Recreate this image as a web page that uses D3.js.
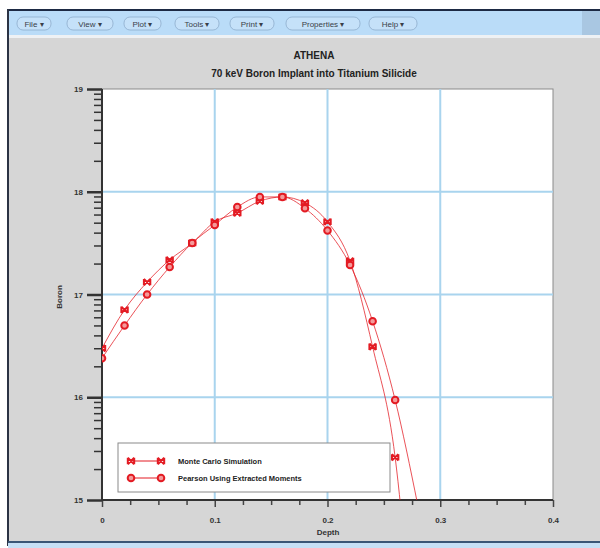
<!DOCTYPE html>
<html><head><meta charset="utf-8">
<script src="https://cdn.jsdelivr.net/npm/d3@7/dist/d3.min.js"></script>
<style>body{margin:0;background:#fff}svg{display:block}text{font-family:"Liberation Sans",Arial,sans-serif}</style>
</head><body><svg id="c" width="600" height="548"></svg>
<script>
// ---- data ----
const depths = [0, 0.02, 0.04, 0.06, 0.08, 0.10, 0.12, 0.14, 0.16, 0.18, 0.20, 0.22, 0.24, 0.26];
const monteCarlo = [3.0e16, 7.1e16, 1.32e17, 2.17e17, 3.17e17, 5.1e17, 6.2e17, 8.1e17, 8.9e17, 7.8e17, 5.1e17, 2.12e17, 3.1e16, 2.6e15];
const pearson    = [2.4e16, 5.0e16, 1.0e17, 1.85e17, 3.17e17, 4.75e17, 7.1e17, 8.9e17, 8.9e17, 6.9e17, 4.2e17, 1.94e17, 5.5e16, 9.4e15];
const tailDepth = 0.28;
const monteCarloTail = 1e13;
const pearsonTail = 9e14;
const xTicks = [0, 0.1, 0.2, 0.3, 0.4];
const xTickLabels = ["0", "0.1", "0.2", "0.3", "0.4"];
const yTicks = [1e15, 1e16, 1e17, 1e18, 1e19];
const yTickLabels = ["15", "16", "17", "18", "19"];
const seriesNames = ["Monte Carlo Simulation", "Pearson Using Extracted Moments"];
const menuItems = ["File", "View", "Plot", "Tools", "Print", "Properties", "Help"];
const title = "ATHENA";
const subtitle = "70 keV Boron Implant into Titanium Silicide";
const xLabel = "Depth";
const yLabel = "Boron";

// ---- chrome ----
const svg = d3.select("#c");
svg.append("rect").attr("x",8).attr("y",38).attr("width",592).attr("height",503).attr("fill","#d6d6d6");
svg.append("rect").attr("x",8).attr("y",9).attr("width",592).attr("height",2).attr("fill","#1d2a44");
svg.append("rect").attr("x",8).attr("y",11).attr("width",592).attr("height",24).attr("fill","#badcf8");
svg.append("rect").attr("x",582).attr("y",11).attr("width",18).attr("height",24).attr("fill","#a9c7e2");
svg.append("rect").attr("x",8).attr("y",35).attr("width",592).attr("height",3).attr("fill","#eef1f4");
svg.append("rect").attr("x",7).attr("y",9).attr("width",2).attr("height",537).attr("fill","#2b3344");
svg.append("rect").attr("x",8).attr("y",541).attr("width",592).attr("height",2).attr("fill","#3a5676");
svg.append("rect").attr("x",8).attr("y",543).attr("width",592).attr("height",5).attr("fill","#c6e0f6");

const btnX = [17, 67, 124, 175, 230, 286, 369];
const btnW = [34, 46, 37, 44, 44, 74, 48];
const menu = svg.append("g");
menuItems.forEach((m,i)=>{
  menu.append("rect").attr("x",btnX[i]).attr("y",17).attr("width",btnW[i]).attr("height",13).attr("rx",6)
    .attr("fill","#c5e1f9").attr("stroke","#8eaccb").attr("stroke-width",0.8);
  menu.append("text").attr("x",btnX[i]+btnW[i]/2).attr("y",26.5).attr("text-anchor","middle")
    .attr("font-size",8).attr("fill","#3a3f48").text(m+" \u25BE");
});

// ---- plot ----
const L=102, R=553, T=89, B=500;
const x = d3.scaleLinear().domain([0,0.4]).range([L,R]);
const y = d3.scaleLog().domain([1e15,1e19]).range([B,T]);

svg.append("rect").attr("x",L).attr("y",T).attr("width",R-L).attr("height",B-T).attr("fill","#fff")
  .attr("stroke","#8a8a8a").attr("stroke-width",1);

// gridlines
const grid = svg.append("g").attr("stroke","#a9d4ee").attr("stroke-width",2);
[0.1,0.2,0.3].forEach(v=>grid.append("line").attr("x1",x(v)).attr("x2",x(v)).attr("y1",T).attr("y2",B));
[1e16,1e17,1e18].forEach(v=>grid.append("line").attr("x1",L).attr("x2",R).attr("y1",y(v)).attr("y2",y(v)));

// titles
svg.append("text").attr("x",314).attr("y",59).attr("text-anchor","middle").attr("font-size",10).attr("font-weight","bold").attr("fill","#222").text(title);
svg.append("text").attr("x",314).attr("y",77).attr("text-anchor","middle").attr("font-size",10).attr("font-weight","bold").attr("fill","#222").text(subtitle);

// y axis
const yMinor = [];
for (let e=15;e<19;e++) for (let k=2;k<=9;k++) yMinor.push(k*Math.pow(10,e));
const yAxMinor = d3.axisLeft(y).tickValues(yMinor).tickSize(8).tickFormat("");
const yAxMajor = d3.axisLeft(y).tickValues(yTicks).tickSize(15).tickPadding(4).tickFormat((d,i)=>yTickLabels[i]);
const gy1 = svg.append("g").attr("transform",`translate(${L},0)`).call(yAxMinor);
const gy2 = svg.append("g").attr("transform",`translate(${L},0)`).call(yAxMajor);
[gy1,gy2].forEach(g=>{g.select(".domain").remove(); g.selectAll("line").attr("stroke","#333").attr("stroke-width",1.5);});
gy2.selectAll("line").attr("stroke-width",2.5);
gy2.selectAll("text").attr("font-size",8).attr("font-weight","bold").attr("fill","#333").attr("font-family","Liberation Sans, Arial, sans-serif");

// x axis
const xMinor = d3.range(0,0.4001,0.025).filter(v=>Math.abs(v*10-Math.round(v*10))>1e-6);
const xAxMinor = d3.axisBottom(x).tickValues(xMinor).tickSize(5).tickFormat("");
const xAxMajor = d3.axisBottom(x).tickValues(xTicks).tickSize(7).tickPadding(10).tickFormat((d,i)=>xTickLabels[i]);
const gx1 = svg.append("g").attr("transform",`translate(0,${B})`).call(xAxMinor);
const gx2 = svg.append("g").attr("transform",`translate(0,${B})`).call(xAxMajor);
[gx1,gx2].forEach(g=>{g.select(".domain").remove(); g.selectAll("line").attr("stroke","#444").attr("stroke-width",1.5);});
gx2.selectAll("text").attr("font-size",8).attr("font-weight","bold").attr("fill","#333").attr("font-family","Liberation Sans, Arial, sans-serif");

// axis lines
svg.append("line").attr("x1",L).attr("x2",L).attr("y1",T).attr("y2",B+1).attr("stroke","#333").attr("stroke-width",2);
svg.append("line").attr("x1",L).attr("x2",R).attr("y1",B).attr("y2",B).attr("stroke","#333").attr("stroke-width",2);

svg.append("text").attr("x",328).attr("y",535).attr("text-anchor","middle").attr("font-size",8).attr("font-weight","bold").attr("fill","#333").text(xLabel);
svg.append("text").attr("transform","translate(62,297) rotate(-90)").attr("text-anchor","middle").attr("font-size",8).attr("font-weight","bold").attr("fill","#333").text(yLabel);

// clip
svg.append("clipPath").attr("id","clip").append("rect").attr("x",L).attr("y",T).attr("width",R-L).attr("height",B-T);

const RED = "#e31b23";
const line = d3.line().x(d=>x(d[0])).y(d=>y(d[1])).curve(d3.curveMonotoneX);
const mcPts = depths.map((d,i)=>[d,monteCarlo[i]]).concat([[tailDepth,monteCarloTail]]);
const pePts = depths.map((d,i)=>[d,pearson[i]]).concat([[tailDepth,pearsonTail]]);
const lines = svg.append("g").attr("clip-path","url(#clip)");
lines.append("path").attr("d",line(mcPts)).attr("fill","none").attr("stroke",RED).attr("stroke-width",0.9).attr("opacity",0.85);
lines.append("path").attr("d",line(pePts)).attr("fill","none").attr("stroke",RED).attr("stroke-width",0.9).attr("opacity",0.85);

function xMark(g,cx,cy){
  const s=3.2;
  g.append("path").attr("d",`M${cx-s},${cy-s}L${cx+s},${cy+s}M${cx+s},${cy-s}L${cx-s},${cy+s}M${cx-s},${cy-s}L${cx-s},${cy+s}M${cx+s},${cy-s}L${cx+s},${cy+s}`)
    .attr("stroke",RED).attr("stroke-width",2).attr("fill","none");
}
function oMark(g,cx,cy){
  g.append("circle").attr("cx",cx).attr("cy",cy).attr("r",3.3).attr("fill","#f49a9a").attr("stroke",RED).attr("stroke-width",2);
}
const marks = svg.append("g").attr("clip-path","url(#clip)");
depths.forEach((d,i)=>{ xMark(marks,x(d),y(monteCarlo[i])); });
depths.forEach((d,i)=>{ oMark(marks,x(d),y(pearson[i])); });

// legend
const lg = svg.append("g");
lg.append("rect").attr("x",118).attr("y",443).attr("width",272).attr("height",49).attr("fill","#fff").attr("stroke","#8a8a8a").attr("stroke-width",1);
[461,478].forEach((ly,i)=>{
  lg.append("line").attr("x1",131).attr("x2",161).attr("y1",ly).attr("y2",ly).attr("stroke",RED).attr("stroke-width",1);
  if(i===0){xMark(lg,131,ly);xMark(lg,161,ly);} else {oMark(lg,131,ly);oMark(lg,161,ly);}
  lg.append("text").attr("x",178).attr("y",ly+3).attr("font-size",7.5).attr("font-weight","bold").attr("fill","#222").text(seriesNames[i]);
});
</script></body></html>
